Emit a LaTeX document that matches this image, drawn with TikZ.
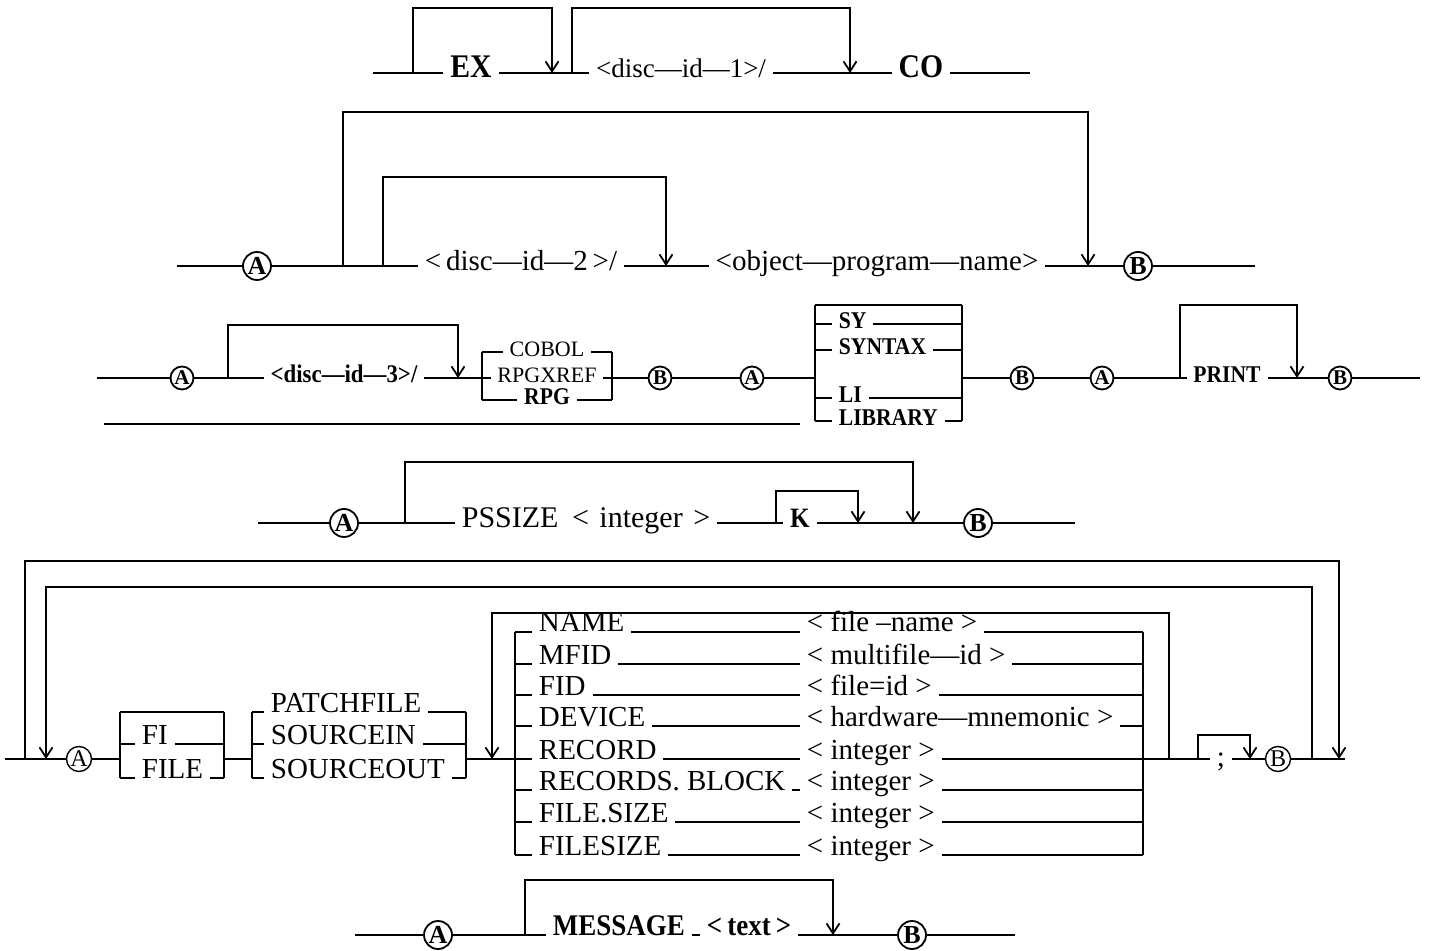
\documentclass[tikz,border=0pt]{standalone}
\usepackage{fontspec}
\setmainfont{Liberation Serif}
\newfontfamily\condser{Liberation Serif}[FakeStretch=0.9]
\usetikzlibrary{arrows.meta}
\begin{document}
\begin{tikzpicture}[x=0.5pt,y=-0.5pt,line width=0.9pt,
  arr/.style={-{Straight Barb[length=5pt,width=6.5pt]}},
  lbl/.style={inner xsep=3pt,inner ysep=0pt,anchor=mid},
  lbw/.style={inner xsep=3pt,inner ysep=0pt,anchor=mid west},
  lbb/.style={inner xsep=3pt,inner ysep=0pt,anchor=base west},
  cir/.style={circle,draw,inner sep=0pt,minimum size=14pt,font=\fontsize{13}{13}\selectfont\bfseries},
  cirs/.style={circle,draw,inner sep=0pt,minimum size=11.5pt,font=\fontsize{10.5}{11}\selectfont\bfseries},
  cirr/.style={circle,draw,line width=0.7pt,inner sep=0pt,minimum size=12.5pt,font=\fontsize{12}{12}\selectfont},
  rgA/.style={font=\fontsize{13.5}{15}\selectfont},
  bdA/.style={font=\fontsize{16.5}{18}\selectfont\condser\bfseries},
  rgB/.style={font=\fontsize{14.5}{16}\selectfont},
  rgC/.style={font=\fontsize{11}{12}\selectfont},
  bdC/.style={font=\fontsize{12}{13}\selectfont\condser\bfseries},
  bdCC/.style={font=\fontsize{12.7}{13}\selectfont\condser\bfseries},
  rgD/.style={font=\fontsize{15}{17}\selectfont},
  bdD/.style={font=\fontsize{14}{15}\selectfont\condser\bfseries},
  rgE/.style={font=\fontsize{14.5}{16}\selectfont},
  bdF/.style={font=\fontsize{15}{17}\selectfont\condser\bfseries},
]
\fill[white] (0,0) rectangle (1429,951);
% ---------------- row 1
\coordinate (s1) at (373,73);
\node[lbl,bdA] (ex) at (471,73) {EX};
\node[lbl,rgA] (d1) at (681,73) {<disc—id—1>/};
\node[lbl,bdA] (co) at (921,73) {CO};
\coordinate (e1) at (1030,73);
\coordinate (j1a) at (413,73);
\coordinate (j1b) at (552,73);
\coordinate (j2a) at (572,73);
\coordinate (j2b) at (850,73);
\coordinate (t1) at (0,8);
\draw (s1) -- (ex.mid west) (ex.mid east) -- (d1.mid west) (d1.mid east) -- (co.mid west) (co.mid east) -- (e1);
\draw[arr] (j1a) -- (j1a |- t1) -| (j1b);
\draw[arr] (j2a) -- (j2a |- t1) -| (j2b);
% ---------------- row 2
\coordinate (s2) at (177,266);
\node[cir] (a2) at (257,266) {A};
\node[lbl,rgB] (d2) at (521,266) {<\,disc—id—2\,>/};
\node[lbl,rgB] (obj) at (877,266) {<object—program—name>};
\node[cir] (b2) at (1138,266) {B};
\coordinate (e2) at (1255,266);
\coordinate (k1a) at (343,266);
\coordinate (k1b) at (1088,266);
\coordinate (t2a) at (0,112);
\coordinate (k2a) at (383,266);
\coordinate (k2b) at (666,266);
\coordinate (t2b) at (0,177);
\draw (s2) -- (a2.west) (a2.east) -- (d2.mid west) (d2.mid east) -- (obj.mid west) (obj.mid east) -- (b2.west) (b2.east) -- (e2);
\draw[arr] (k1a) -- (k1a |- t2a) -| (k1b);
\draw[arr] (k2a) -- (k2a |- t2b) -| (k2b);
% ---------------- row 3
\coordinate (s3) at (97,378);
\node[cirs] (a3) at (182,378) {A};
\node[lbl,bdCC] (d3) at (344,378) {<disc—id—3>/};
\coordinate (m3a) at (228,378);
\coordinate (m3b) at (458,378);
\coordinate (t3a) at (0,325);
\draw[arr] (m3a) -- (m3a |- t3a) -| (m3b);
\node[lbl,rgC] (cob) at (547,352) {COBOL};
\node[lbl,rgC] (rpx) at (547,378) {RPGXREF};
\node[lbl,bdC] (rpg) at (547,400) {RPG};
\coordinate (c1) at (482,352);
\coordinate (c2) at (482,400);
\coordinate (c3) at (612,352);
\coordinate (c4) at (612,400);
\draw (c1) -- (c2) (c3) -- (c4) (c1) -- (cob.mid west) (cob.mid east) -- (c3) (c2) -- (rpg.mid west) (rpg.mid east) -- (c4);
\node[cirs] (b3a) at (660,378) {B};
\node[cirs] (a3b) at (752,378) {A};
\draw (s3) -- (a3.west) (a3.east) -- (d3.mid west) (d3.mid east) -- (rpx.mid west) (rpx.mid east) -- (b3a.west) (b3a.east) -- (a3b.west);
\coordinate (g1) at (815,305);
\coordinate (g2) at (815,421);
\coordinate (g3) at (962,305);
\coordinate (g4) at (962,421);
\coordinate (g5) at (815,378);
\coordinate (g6) at (962,378);
\node[lbw,bdC] (sy) at (832,324) {SY};
\node[lbw,bdC] (syn) at (832,350) {SYNTAX};
\node[lbw,bdC] (li) at (832,398) {LI};
\node[lbw,bdC] (lib) at (832,421) {LIBRARY};
\draw (g1) -- (g2) (g3) -- (g4) (g1) -- (g3);
\draw (sy.mid west -| g1) -- (sy.mid west) (sy.mid east) -- (sy.mid east -| g3);
\draw (syn.mid west -| g1) -- (syn.mid west) (syn.mid east) -- (syn.mid east -| g3);
\draw (li.mid west -| g1) -- (li.mid west) (li.mid east) -- (li.mid east -| g3);
\draw (g2) -- (lib.mid west) (lib.mid east) -- (g4);
\coordinate (u1) at (104,424);
\coordinate (u2) at (800,424);
\draw (u1) -- (u2);
\node[cirs] (b3b) at (1022,378) {B};
\node[cirs] (a3c) at (1102,378) {A};
\node[lbl,bdC] (prt) at (1227,378) {PRINT};
\node[cirs] (b3c) at (1340,378) {B};
\coordinate (e3) at (1420,378);
\coordinate (n3a) at (1180,378);
\coordinate (n3b) at (1297,378);
\coordinate (t3b) at (0,305);
\draw (a3b.east) -- (g5) (g6) -- (b3b.west) (b3b.east) -- (a3c.west) (a3c.east) -- (prt.mid west) (prt.mid east) -- (b3c.west) (b3c.east) -- (e3);
\draw[arr] (n3a) -- (n3a |- t3b) -| (n3b);
% ---------------- row 4
\coordinate (s4) at (258,523);
\node[cir] (a4) at (344,523) {A};
\node[lbl,rgD] (ps) at (586,523) {PSSIZE\hspace{0.45em}<\hspace{0.35em}integer\hspace{0.35em}>};
\node[lbl,bdD] (kk) at (800,523) {K};
\node[cir] (b4) at (978,523) {B};
\coordinate (e4) at (1075,523);
\coordinate (p4a) at (405,523);
\coordinate (p4b) at (913,523);
\coordinate (t4a) at (0,462);
\coordinate (q4a) at (776,523);
\coordinate (q4b) at (858,523);
\coordinate (t4b) at (0,491);
\draw (s4) -- (a4.west) (a4.east) -- (ps.mid west) (ps.mid east) -- (kk.mid west) (kk.mid east) -- (b4.west) (b4.east) -- (e4);
\draw[arr] (p4a) -- (p4a |- t4a) -| (p4b);
\draw[arr] (q4a) -- (q4a |- t4b) -| (q4b);
% ---------------- row 5
\coordinate (s5) at (5,759);
\coordinate (o1) at (25,759);
\coordinate (o2) at (1339,759);
\coordinate (to) at (0,561);
\coordinate (i1) at (1312,759);
\coordinate (i2) at (46,759);
\coordinate (ti) at (0,587);
\node[cirr] (a5) at (79,759) {A};
\coordinate (f1) at (120,712);
\coordinate (f2) at (120,778);
\coordinate (f3) at (224,712);
\coordinate (f4) at (224,778);
\coordinate (f5) at (120,759);
\coordinate (f6) at (224,759);
\node[lbb,rgE] (fi) at (135,744) {FI};
\node[lbb,rgE] (fil) at (135,778) {FILE};
\draw (f1) -- (f2) (f3) -- (f4) (f1) -- (f3);
\draw (fi.base west -| f1) -- (fi.base west) (fi.base east) -- (fi.base east -| f3);
\draw (f2) -- (fil.base west) (fil.base east) -- (f4);
\coordinate (h1) at (252,712);
\coordinate (h2) at (252,778);
\coordinate (h3) at (466,712);
\coordinate (h4) at (466,778);
\coordinate (h5) at (252,759);
\coordinate (h6) at (466,759);
\node[lbb,rgE] (pat) at (264,712) {PATCHFILE};
\node[lbb,rgE] (sin) at (264,744) {SOURCEIN};
\node[lbb,rgE] (sout) at (264,778) {SOURCEOUT};
\draw (h1) -- (h2) (h3) -- (h4);
\draw (h1) -- (pat.base west) (pat.base east) -- (h3);
\draw (sin.base west -| h1) -- (sin.base west) (sin.base east) -- (sin.base east -| h3);
\draw (h2) -- (sout.base west) (sout.base east) -- (h4);
\draw (s5) -- (a5.west) (a5.east) -- (f5) (f6) -- (h5);
% list
\coordinate (L1) at (515,632);
\coordinate (L2) at (515,855);
\coordinate (R1) at (1143,632);
\coordinate (R2) at (1143,855);
\draw (L1) -- (L2) (R1) -- (R2);
\node[lbb,rgE] (n1) at (532,632) {NAME};
\node[lbb,rgE] (n2) at (532,664) {MFID};
\node[lbb,rgE] (n3) at (532,695) {FID};
\node[lbb,rgE] (n4) at (532,726) {DEVICE};
\node[lbb,rgE] (n5) at (532,759) {RECORD};
\node[lbb,rgE] (n6) at (532,790) {RECORDS. BLOCK};
\node[lbb,rgE] (n7) at (532,822) {FILE.SIZE};
\node[lbb,rgE] (n8) at (532,855) {FILESIZE};
\node[lbb,rgE] (v1) at (800,632) {< file –name >};
\node[lbb,rgE] (v2) at (800,664) {< multifile—id >};
\node[lbb,rgE] (v3) at (800,695) {< file=id >};
\node[lbb,rgE] (v4) at (800,726) {< hardware—mnemonic >};
\node[lbb,rgE] (v5) at (800,759) {< integer >};
\node[lbb,rgE] (v6) at (800,790) {< integer >};
\node[lbb,rgE] (v7) at (800,822) {< integer >};
\node[lbb,rgE] (v8) at (800,855) {< integer >};
\foreach \i in {1,2,3,4,6,7,8} {
  \draw (n\i.base west -| L1) -- (n\i.base west) (n\i.base east) -- (v\i.base west) (v\i.base east) -- (v\i.base east -| R1);
}
\draw (h6) -- (n5.base west) (n5.base east) -- (v5.base west);
\coordinate (lp1) at (1169,759);
\coordinate (lp2) at (492,759);
\coordinate (tl) at (0,613);
\draw[arr] (lp1) -- (lp1 |- tl) -| (lp2);
\node[inner xsep=3pt,inner ysep=0pt,rgE] (sc) at (1221,762) {;};
\node[cirr] (b5) at (1278,759) {B};
\coordinate (e5) at (1345,759);
\coordinate (sc1) at (1198,759);
\coordinate (sc2) at (1250,759);
\coordinate (tsc) at (0,735);
\draw (v5.base east) -- (sc.west |- v5.base east) (sc.east |- b5.west) -- (b5.west) (b5.east) -- (e5);
\draw[arr] (sc1) -- (sc1 |- tsc) -| (sc2);
\draw[arr] (o1) -- (o1 |- to) -| (o2);
\draw[arr] (i1) -- (i1 |- ti) -| (i2);
% ---------------- row 6
\coordinate (s6) at (355,935);
\node[cir] (a6) at (438,935) {A};
\node[lbb,bdF] (msg) at (546,935) {MESSAGE};
\node[lbb,bdF] (txt) at (700,935) {<\,text\,>};
\node[cir] (b6) at (912,935) {B};
\coordinate (e6) at (1015,935);
\coordinate (w6a) at (525,935);
\coordinate (w6b) at (833,935);
\coordinate (t6) at (0,880);
\draw (s6) -- (a6.west) (a6.east) -- (msg.base west) (msg.base east) -- (txt.base west) (txt.base east) -- (b6.west) (b6.east) -- (e6);
\draw[arr] (w6a) -- (w6a |- t6) -| (w6b);
\end{tikzpicture}
\end{document}
